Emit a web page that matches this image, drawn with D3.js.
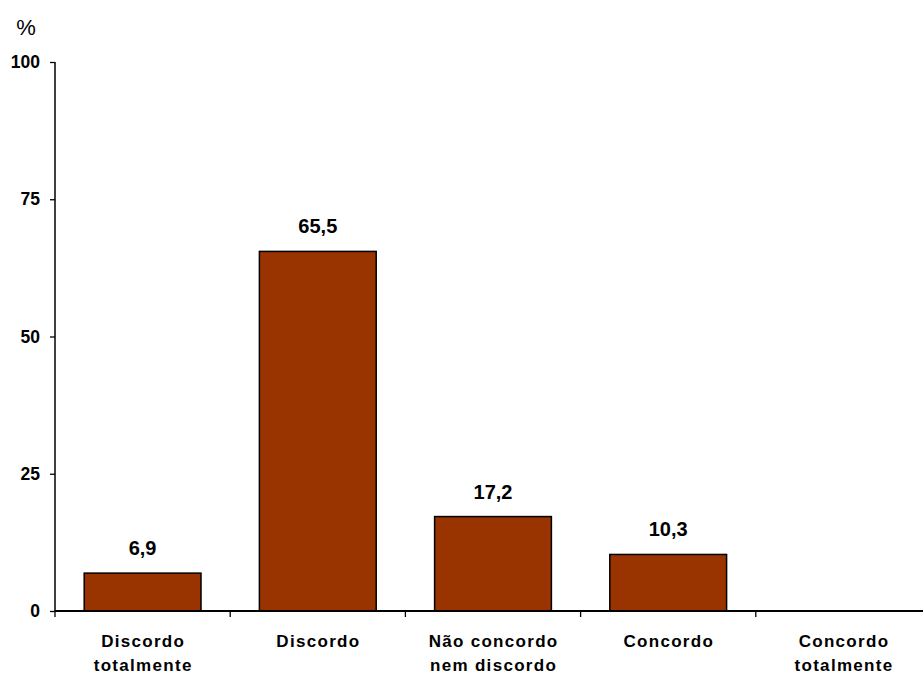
<!DOCTYPE html>
<html>
<head>
<meta charset="utf-8">
<script src="https://cdn.jsdelivr.net/npm/d3@7"></script>
<style>
  html, body { margin: 0; padding: 0; background: #fff; }
  svg { display: block; font-family: "Liberation Sans", Arial, sans-serif; }
</style>
</head>
<body>
<svg id="chart" width="923" height="673"></svg>
<script>
// Survey answers (percentage of respondents)
const categories = [
  ["Discordo", "totalmente"],
  ["Discordo"],
  ["Não concordo", "nem discordo"],
  ["Concordo"],
  ["Concordo", "totalmente"]
];
const values = [6.9, 65.5, 17.2, 10.3, 0];
const valueLabels = ["6,9", "65,5", "17,2", "10,3", null];
const yTicks = [0, 25, 50, 75, 100];

const svg = d3.select("#chart");
const plotLeft = 55, plotRight = 931, plotTop = 62, plotBottom = 611;
const keys = categories.map((c, i) => i);
const rows = values.map((v, i) => ({ v, i, t: valueLabels[i] }));

const x = d3.scaleBand().domain(keys).range([plotLeft, plotRight]).padding(0);
const xBar = d3.scaleBand().domain(keys).range([plotLeft, plotRight])
  .paddingInner(1 / 3).paddingOuter(1 / 6);
const y = d3.scaleLinear().domain([0, 100]).range([plotBottom, plotTop]);

// bars
svg.append("g").selectAll("rect")
  .data(rows.filter(d => d.v > 0))
  .join("rect")
  .attr("x", d => xBar(d.i))
  .attr("y", d => y(d.v))
  .attr("width", xBar.bandwidth())
  .attr("height", d => y(0) - y(d.v))
  .attr("fill", "#993300")
  .attr("stroke", "#000")
  .attr("stroke-width", 1.5);

// value labels
svg.append("g").selectAll("text")
  .data(rows.filter(d => d.t))
  .join("text")
  .attr("x", d => xBar(d.i) + xBar.bandwidth() / 2)
  .attr("y", d => y(d.v) - 18)
  .attr("text-anchor", "middle")
  .attr("font-size", 20)
  .attr("font-weight", "bold")
  .text(d => d.t);

// y axis
const yAxis = svg.append("g")
  .attr("transform", `translate(${plotLeft},0)`)
  .call(d3.axisLeft(y).tickValues(yTicks).tickSize(5).tickPadding(10).tickFormat(d3.format("d")));
yAxis.select(".domain").attr("stroke", "#000").attr("stroke-width", 1.5).attr("d", `M0,${plotTop}V${plotBottom}`);
yAxis.selectAll(".tick line").attr("stroke", "#000").attr("stroke-width", 1.3);
yAxis.selectAll(".tick text")
  .attr("font-size", 17.5).attr("font-weight", "bold").attr("fill", "#000")
  .attr("font-family", "Liberation Sans, Arial, sans-serif");

// x axis with ticks between categories
const xAxis = svg.append("g").attr("transform", `translate(0,${plotBottom})`);
xAxis.append("line")
  .attr("x1", plotLeft).attr("x2", plotRight)
  .attr("stroke", "#000").attr("stroke-width", 2);
xAxis.selectAll("line.tick")
  .data(keys)
  .join("line")
  .attr("class", "tick")
  .attr("x1", d => x(d)).attr("x2", d => x(d))
  .attr("y1", 0).attr("y2", 6)
  .attr("stroke", "#000").attr("stroke-width", 1.3);

// category labels
const labels = svg.append("g").selectAll("text")
  .data(categories.map((c, i) => ({ c, i })))
  .join("text")
  .attr("y", 647)
  .attr("text-anchor", "middle")
  .attr("font-size", 17)
  .attr("font-weight", "bold")
  .attr("letter-spacing", 1.3);
labels.selectAll("tspan")
  .data(d => d.c.map((t, k) => ({ t, k, cx: x(d.i) + x.bandwidth() / 2 + 0.6 })))
  .join("tspan")
  .attr("x", d => d.cx)
  .attr("dy", d => d.k === 0 ? 0 : 23.5)
  .text(d => d.t);

// unit label
svg.append("text")
  .attr("x", 26).attr("y", 35)
  .attr("text-anchor", "middle")
  .attr("font-size", 22)
  .text("%");
</script>
</body>
</html>
